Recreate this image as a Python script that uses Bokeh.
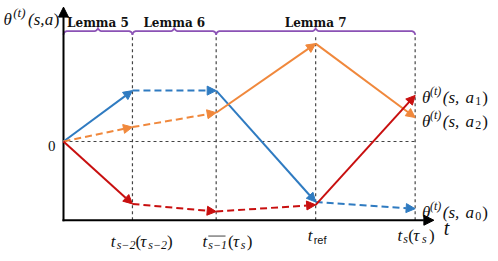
import numpy as np
from bokeh.plotting import figure
from bokeh.models import Range1d, Arrow, NormalHead, ColumnDataSource
from bokeh.core.properties import value
from bokeh.embed import file_html
from bokeh.resources import INLINE

# ---------------- data ----------------
t_ticks = [0.0, 7.0, 15.5, 25.6, 35.7]          # t_0, t_{s-2}, t_{s-1}, t_ref, t_s
theta_a0 = [0.0, 5.3, 5.3, -6.3, -7.0]           # blue
theta_a1 = [0.0, -6.5, -7.3, -6.6, 4.8]          # red
theta_a2 = [0.0, 1.5, 3.0, 10.2, 2.5]            # orange
dash_a0 = ["solid", "dashed", "solid", "dashed"]
dash_a1 = ["solid", "dashed", "dashed", "solid"]
dash_a2 = ["dashed", "dashed", "solid", "solid"]
lemma_names = ["Lemma 5", "Lemma 6", "Lemma 7"]
lemma_spans = [(0, 1), (1, 2), (2, 4)]           # tick indices
axis_y = -8.2
axis_x_end = 37.6
axis_y_top = 14.0
brace_y = 11.5

BLUE = "#2f7bc1"
ORANGE = "#f0883c"
RED = "#c80f0f"
PURPLE = "#8b52b5"
GRID = "#444444"
INK = "#111111"

PXX, PXY = 9.85, 9.6  # screen pixels per data unit
W, H = 490, 253
x0_px, y0_px = 63, 141
p = figure(width=W, height=H, output_backend="svg", toolbar_location=None,
           x_range=Range1d(-x0_px / PXX, (W - x0_px) / PXX),
           y_range=Range1d((y0_px - H) / PXY, y0_px / PXY),
           min_border=0, min_border_left=0, min_border_right=0,
           min_border_top=0, min_border_bottom=0)
p.axis.visible = False
p.grid.visible = False
p.outline_line_color = None
p.background_fill_color = "white"
p.border_fill_color = "white"

# dashed guides
p.segment(x0=t_ticks[1:], y0=[axis_y] * 4, x1=t_ticks[1:], y1=[brace_y - 0.35] * 4,
          line_color=GRID, line_width=1.2, line_dash="3 3")
p.segment(x0=[t_ticks[0]], y0=[0], x1=[t_ticks[-1]], y1=[0],
          line_color=GRID, line_width=1.2, line_dash="3 3")

# axes
p.add_layout(Arrow(end=NormalHead(size=10, fill_color="black", line_color="black"),
                   x_start=0, y_start=axis_y - 0.1, x_end=0, y_end=axis_y_top,
                   line_color="black", line_width=2))
p.add_layout(Arrow(end=NormalHead(size=10, fill_color="black", line_color="black"),
                   x_start=-0.1, y_start=axis_y, x_end=axis_x_end, y_end=axis_y,
                   line_color="black", line_width=2))

# series arrows
for vals, dashes, col in [(theta_a0, dash_a0, BLUE), (theta_a2, dash_a2, ORANGE),
                          (theta_a1, dash_a1, RED)]:
    for i in range(4):
        p.add_layout(Arrow(end=NormalHead(size=9, fill_color=col, line_color=col, line_width=1),
                           x_start=t_ticks[i], y_start=vals[i],
                           x_end=t_ticks[i + 1], y_end=vals[i + 1],
                           line_color=col, line_width=2,
                           line_dash="solid" if dashes[i] == "solid" else "7 4"))

# braces
def brace(a, b, y, r=0.4):
    m = 0.5 * (a + b)
    pts = []
    def arc(cx, cy, t0, t1):
        tt = np.linspace(t0, t1, 10)
        return list(zip(cx + r * np.cos(tt), cy + r * np.sin(tt)))
    pts += arc(a + r, y - r, np.pi, np.pi / 2)
    pts += arc(m - r, y + r, -np.pi / 2, 0)
    pts += arc(m + r, y + r, np.pi, 3 * np.pi / 2)
    pts += arc(b - r, y - r, np.pi / 2, 0)
    xs, ys = zip(*pts)
    return list(xs), list(ys)

for (i0, i1) in lemma_spans:
    bx, by = brace(t_ticks[i0], t_ticks[i1], brace_y)
    p.line(bx, by, line_color=PURPLE, line_width=1.8)

# ---------------- texts ----------------
rows = dict(x=[], y=[], text=[], size=[], font=[], style=[], align=[])
MATH = "Liberation Serif"

def put(ax, ay, pieces, align="left"):
    for (txt, dx, dy, size, font, style) in pieces:
        rows["x"].append(ax + dx / 10.0)
        rows["y"].append(ay - dy / 10.0)
        rows["text"].append(txt)
        rows["size"].append(f"{size}px")
        rows["font"].append(font)
        rows["style"].append(style)
        rows["align"].append(align)

def m(txt, dx, dy=0, size=17, style="italic", font=MATH):
    return (txt, dx, dy, size, font, style)

# y-axis label theta^(t)(s,a)
put(0, axis_y_top, [m("θ", -61, 13), m("(t)", -51, 6, 13), m("(s,", -36, 13),
                    m("a", -19, 13), m(")", -10, 13, style="normal")])
# x-axis label t
put(axis_x_end, axis_y, [m("t", 10, 8, 20)])
# zero label
put(0, 0, [m("0", -8, 5, 15, "normal")], align="right")

# tick labels
tick_pieces = [
    [m("t", -22, 22), m("s−2", -16, 26, 12), m("(", 3, 22, style="normal"), m("τ", 8, 22),
     m("s−2", 16, 26, 12), m(")", 35, 22, style="normal")],
    [m("t", -14, 22), m("s−1", -8, 26, 12), m("(", 12, 22, style="normal"), m("τ", 17, 22),
     m("s", 25, 26, 12), m(")", 31, 22, style="normal")],
    [m("t", -8, 16), ("ref", -2, 21, 11, "Liberation Sans", "normal")],
    [m("t", -18, 16), m("s", -12, 20, 12), m("(", -7, 16, style="normal"), m("τ", -2, 16),
     m("s", 7, 20, 12), m(")", 14, 16, style="normal")],
]
for k, pieces in enumerate(tick_pieces):
    put(t_ticks[k + 1], axis_y, pieces)
# overline of the s-1 subscript
p.segment(x0=[t_ticks[2] - 0.8], y0=[axis_y - 1.65], x1=[t_ticks[2] + 0.95], y1=[axis_y - 1.65],
          line_color=INK, line_width=0.8)

# right-hand series labels
for vals, sub, dy in [(theta_a1, "1", 2), (theta_a2, "2", 4), (theta_a0, "0", 4)]:
    put(t_ticks[-1], vals[-1], [m("θ", 7, dy), m("(t)", 15, dy - 7, 12), m("(s,", 28, dy),
                                m("a", 51, dy), m(sub, 61, dy + 4, 12, "normal"),
                                m(")", 68, dy, style="normal")])

src = ColumnDataSource(rows)
p.text(x="x", y="y", text="text", source=src, text_font="font", text_font_size="size",
       text_font_style="style", text_align="align", text_baseline="alphabetic",
       text_color=INK)

# lemma labels
lem = dict(x=[0.5 * (t_ticks[a] + t_ticks[b]) for a, b in lemma_spans],
           y=[brace_y + 0.85] * 3, text=lemma_names)
p.text(x="x", y="y", text="text", source=ColumnDataSource(lem),
       text_font=value("DejaVu Serif"), text_font_size=value("12px"),
       text_font_style="bold", text_align="center", text_baseline="alphabetic",
       text_color=INK)

open("out.html", "w").write(file_html(p, INLINE))
